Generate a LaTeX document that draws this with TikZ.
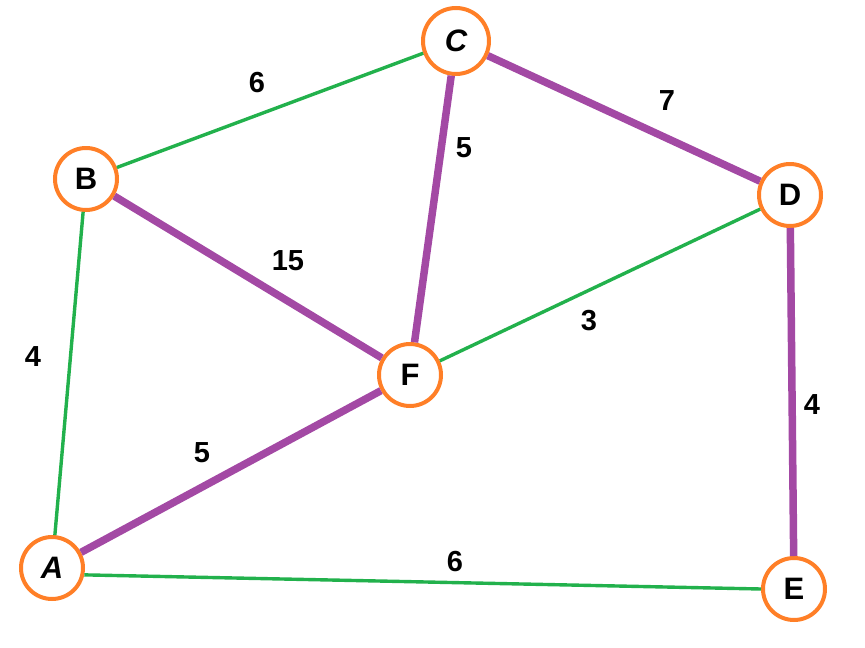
\documentclass[tikz,border=0pt]{standalone}
\usepackage{fontspec}
\setmainfont{Liberation Sans}
\definecolor{orng}{HTML}{FF7F27}
\definecolor{grn}{HTML}{22B14C}
\definecolor{prp}{HTML}{A349A4}
\begin{document}
\begin{tikzpicture}[x=1pt,y=-1pt,
  vert/.style={circle,draw=orng,line width=4pt,fill=white,minimum size=62pt,inner sep=0pt,font=\fontsize{31}{31}\selectfont\bfseries},
  thin/.style={grn,line width=3.4pt},
  thick/.style={prp,line width=7.5pt},
  wlab/.style={font=\fontsize{29}{29}\selectfont\bfseries,inner sep=0pt}]
\useasboundingbox (0,0) rectangle (865,648);
\node[vert,minimum size=66pt] (C) at (456,41) {\itshape C};
\node[vert] (B) at (86,179) {B};
\node[vert] (D) at (790,195) {D};
\node[vert] (F) at (410,375) {F};
\node[vert] (A) at (52,568) {\itshape A};
\node[vert] (E) at (794,589) {E};
\draw[thin] (B) -- (C);
\draw[thin] (B) -- (A);
\draw[thin] (F) -- (D);
\draw[thin] (A.-12) -- (E.180);
\draw[thick] (C) -- (D);
\draw[thick] (C) -- (F);
\draw[thick] (B) -- (F);
\draw[thick] (A) -- (F);
\draw[thick] (D) -- (E);
\node[wlab] (w1) at (257,83) {6};
\node[wlab] (w2) at (667,101) {7};
\node[wlab] (w3) at (464,148) {5};
\node[wlab] (w4) at (288,261) {15};
\node[wlab] (w5) at (589,321) {3};
\node[wlab] (w6) at (33,357) {4};
\node[wlab] (w7) at (202,453) {5};
\node[wlab] (w8) at (812,405) {4};
\node[wlab] (w9) at (455,562) {6};
\end{tikzpicture}
\end{document}
